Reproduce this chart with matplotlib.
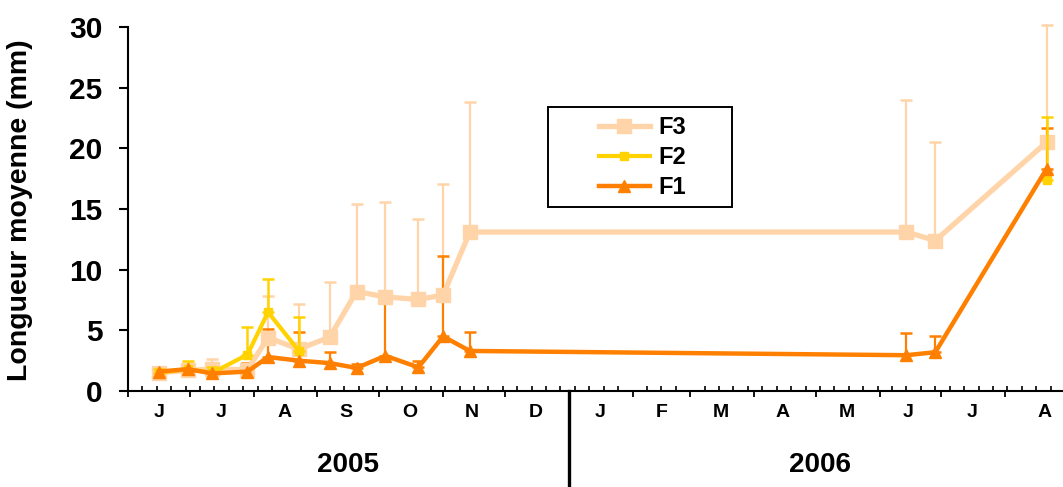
import matplotlib
matplotlib.use('Agg')
import matplotlib.pyplot as plt
import matplotlib.dates as mdates
import numpy as np
from matplotlib.transforms import blended_transform_factory
from matplotlib.patches import Rectangle

plt.rcParams['font.family'] = ['Liberation Sans', 'DejaVu Sans']

# ---------------- data ----------------
dates = ['2005-06-16', '2005-06-30', '2005-07-12', '2005-07-29', '2005-08-08',
         '2005-08-23', '2005-09-07', '2005-09-20', '2005-10-04', '2005-10-20',
         '2005-11-01', '2005-11-14', '2006-06-14', '2006-06-28', '2006-08-21']

f1_mean = [1.6, 1.8, 1.45, 1.6, 2.8, 2.5, 2.3, 1.9, 2.9, 1.95, 4.5, 3.3, 2.95, 3.2, 18.3]
f1_top = [2.0, 2.1, 1.7, 2.3, 5.1, 4.85, 3.2, 2.2, 7.6, 2.5, 11.1, 4.9, 4.75, 4.55, 21.7]

nan = np.nan
f2_mean = [1.5, 1.8, 1.5, 3.0, 6.5, 3.3, nan, nan, nan, nan, nan, nan, nan, nan, 17.4]
f2_top = [1.8, 2.5, 2.0, 5.25, 9.2, 6.1, nan, nan, nan, nan, nan, nan, nan, nan, 22.6]

f3_mean = [1.5, 1.7, 1.8, 1.75, 4.4, 3.45, 4.45, 8.2, 7.75, 7.55, 7.9, 13.1, 13.1, 12.4, 20.5]
f3_top = [1.9, 2.2, 2.6, 2.2, 7.85, 7.15, 9.0, 15.4, 15.55, 14.2, 17.1, 23.8, 24.0, 20.5, 30.2]

month_labels = ['J', 'J', 'A', 'S', 'O', 'N', 'D', 'J', 'F', 'M', 'A', 'M', 'J', 'J', 'A']
month_label_dates = ['2005-06-16', '2005-07-16', '2005-08-16', '2005-09-15', '2005-10-16',
                     '2005-11-15', '2005-12-16', '2006-01-16', '2006-02-15', '2006-03-16',
                     '2006-04-15', '2006-05-16', '2006-06-15', '2006-07-16', '2006-08-20']
year_labels = ['2005', '2006']
year_label_dates = ['2005-09-16', '2006-05-03']
year_split = '2006-01-01'
x_start, x_end = '2005-06-01', '2006-08-29'
y_ticks = [0, 5, 10, 15, 20, 25, 30]

# ---------------- style ----------------
C3 = '#FFD4A8'
C2 = '#FFD200'
C1 = '#FF8000'

def dnum(lst):
    return mdates.date2num(np.array(lst, dtype='datetime64[D]'))

x = dnum(dates)

W, H = 1063, 487
fig = plt.figure(figsize=(W / 100, H / 100), dpi=100)
ax = fig.add_axes([128 / W, 1 - 391 / H, (W - 128) / W, 364 / H])


def upper_err(mean, top):
    m = np.array(mean, float)
    t = np.array(top, float)
    return m, np.vstack([np.zeros_like(m), t - m])


def unclip(container):
    for child in container.get_children():
        child.set_clip_on(False)

m3, e3 = upper_err(f3_mean, f3_top)
m2, e2 = upper_err(f2_mean, f2_top)
m1, e1 = upper_err(f1_mean, f1_top)

unclip(ax.errorbar(x, m3, yerr=e3, fmt='none', ecolor=C3, elinewidth=1.6, capsize=4.5,
                   capthick=1.8, zorder=2))
unclip(ax.errorbar(x, m1, yerr=e1, fmt='none', ecolor=C1, elinewidth=1.6, capsize=4.5,
                   capthick=1.8, zorder=2.5))
l3, = ax.plot(x, m3, color=C3, lw=3.8, marker='s', ms=10.5, mfc=C3, mec=C3,
              zorder=3, label='F3')
unclip(ax.errorbar(x, m2, yerr=e2, fmt='none', ecolor=C2, elinewidth=1.8, capsize=4.5,
                   capthick=1.8, zorder=4))
l2, = ax.plot(x, m2, color=C2, lw=3.0, marker='s', ms=5.5, mfc=C2, mec=C2,
              zorder=4.5, label='F2')
l1, = ax.plot(x, m1, color=C1, lw=3.2, marker='^', ms=9, mfc=C1, mec=C1,
              zorder=5, label='F1')

# axes
ax.set_xlim(dnum([x_start])[0], dnum([x_end])[0])
ax.set_ylim(0, 30)
for s in ['top', 'right']:
    ax.spines[s].set_visible(False)
for s in ['left', 'bottom']:
    ax.spines[s].set_linewidth(1.5)

ax.set_yticks(y_ticks)
ax.tick_params(axis='y', direction='out', length=6.5, width=1.5, labelsize=21.5, pad=12)
for lab in ax.get_yticklabels():
    lab.set_fontweight('bold')

ax.xaxis.set_major_locator(mdates.MonthLocator())
ax.xaxis.set_minor_locator(mdates.WeekdayLocator(byweekday=mdates.WE))
ax.tick_params(axis='x', which='major', direction='out', length=4, width=1.3,
               labelbottom=False)
ax.tick_params(axis='x', which='minor', direction='in', length=3.5, width=1.2,
               labelbottom=False)

trans = blended_transform_factory(ax.transData, ax.transAxes)
for lab, d in zip(month_labels, dnum(month_label_dates)):
    ax.text(d, -0.058, lab, transform=trans, ha='center', va='center',
            fontsize=14, fontweight='bold')
for lab, d in zip(year_labels, dnum(year_label_dates)):
    ax.text(d, -0.203, lab, transform=trans, ha='center', va='center',
            fontsize=20, fontweight='bold')
xs = dnum([year_split])[0]
ax.plot([xs, xs], [0, -0.3], transform=trans, color='black', lw=2.4,
        clip_on=False, zorder=6)

fig.text(20 / W, 1 - 210 / H, 'Longueur moyenne (mm)', rotation=90,
         ha='center', va='center', fontsize=20.5, fontweight='bold')

# legend
leg = fig.legend(handles=[l3, l2, l1], loc='upper left',
                 bbox_to_anchor=(599 / W, 1 - 116 / H), frameon=False,
                 prop={'size': 17, 'weight': 'bold'}, handlelength=2.15,
                 handletextpad=0.35, labelspacing=0.3, borderpad=0,
                 borderaxespad=0)
fig.add_artist(Rectangle((548 / W, 1 - 207 / H), 184 / W, 100 / H,
                         transform=fig.transFigure, fill=False,
                         edgecolor='black', lw=1.4))

fig.savefig('out.png', dpi=100)
